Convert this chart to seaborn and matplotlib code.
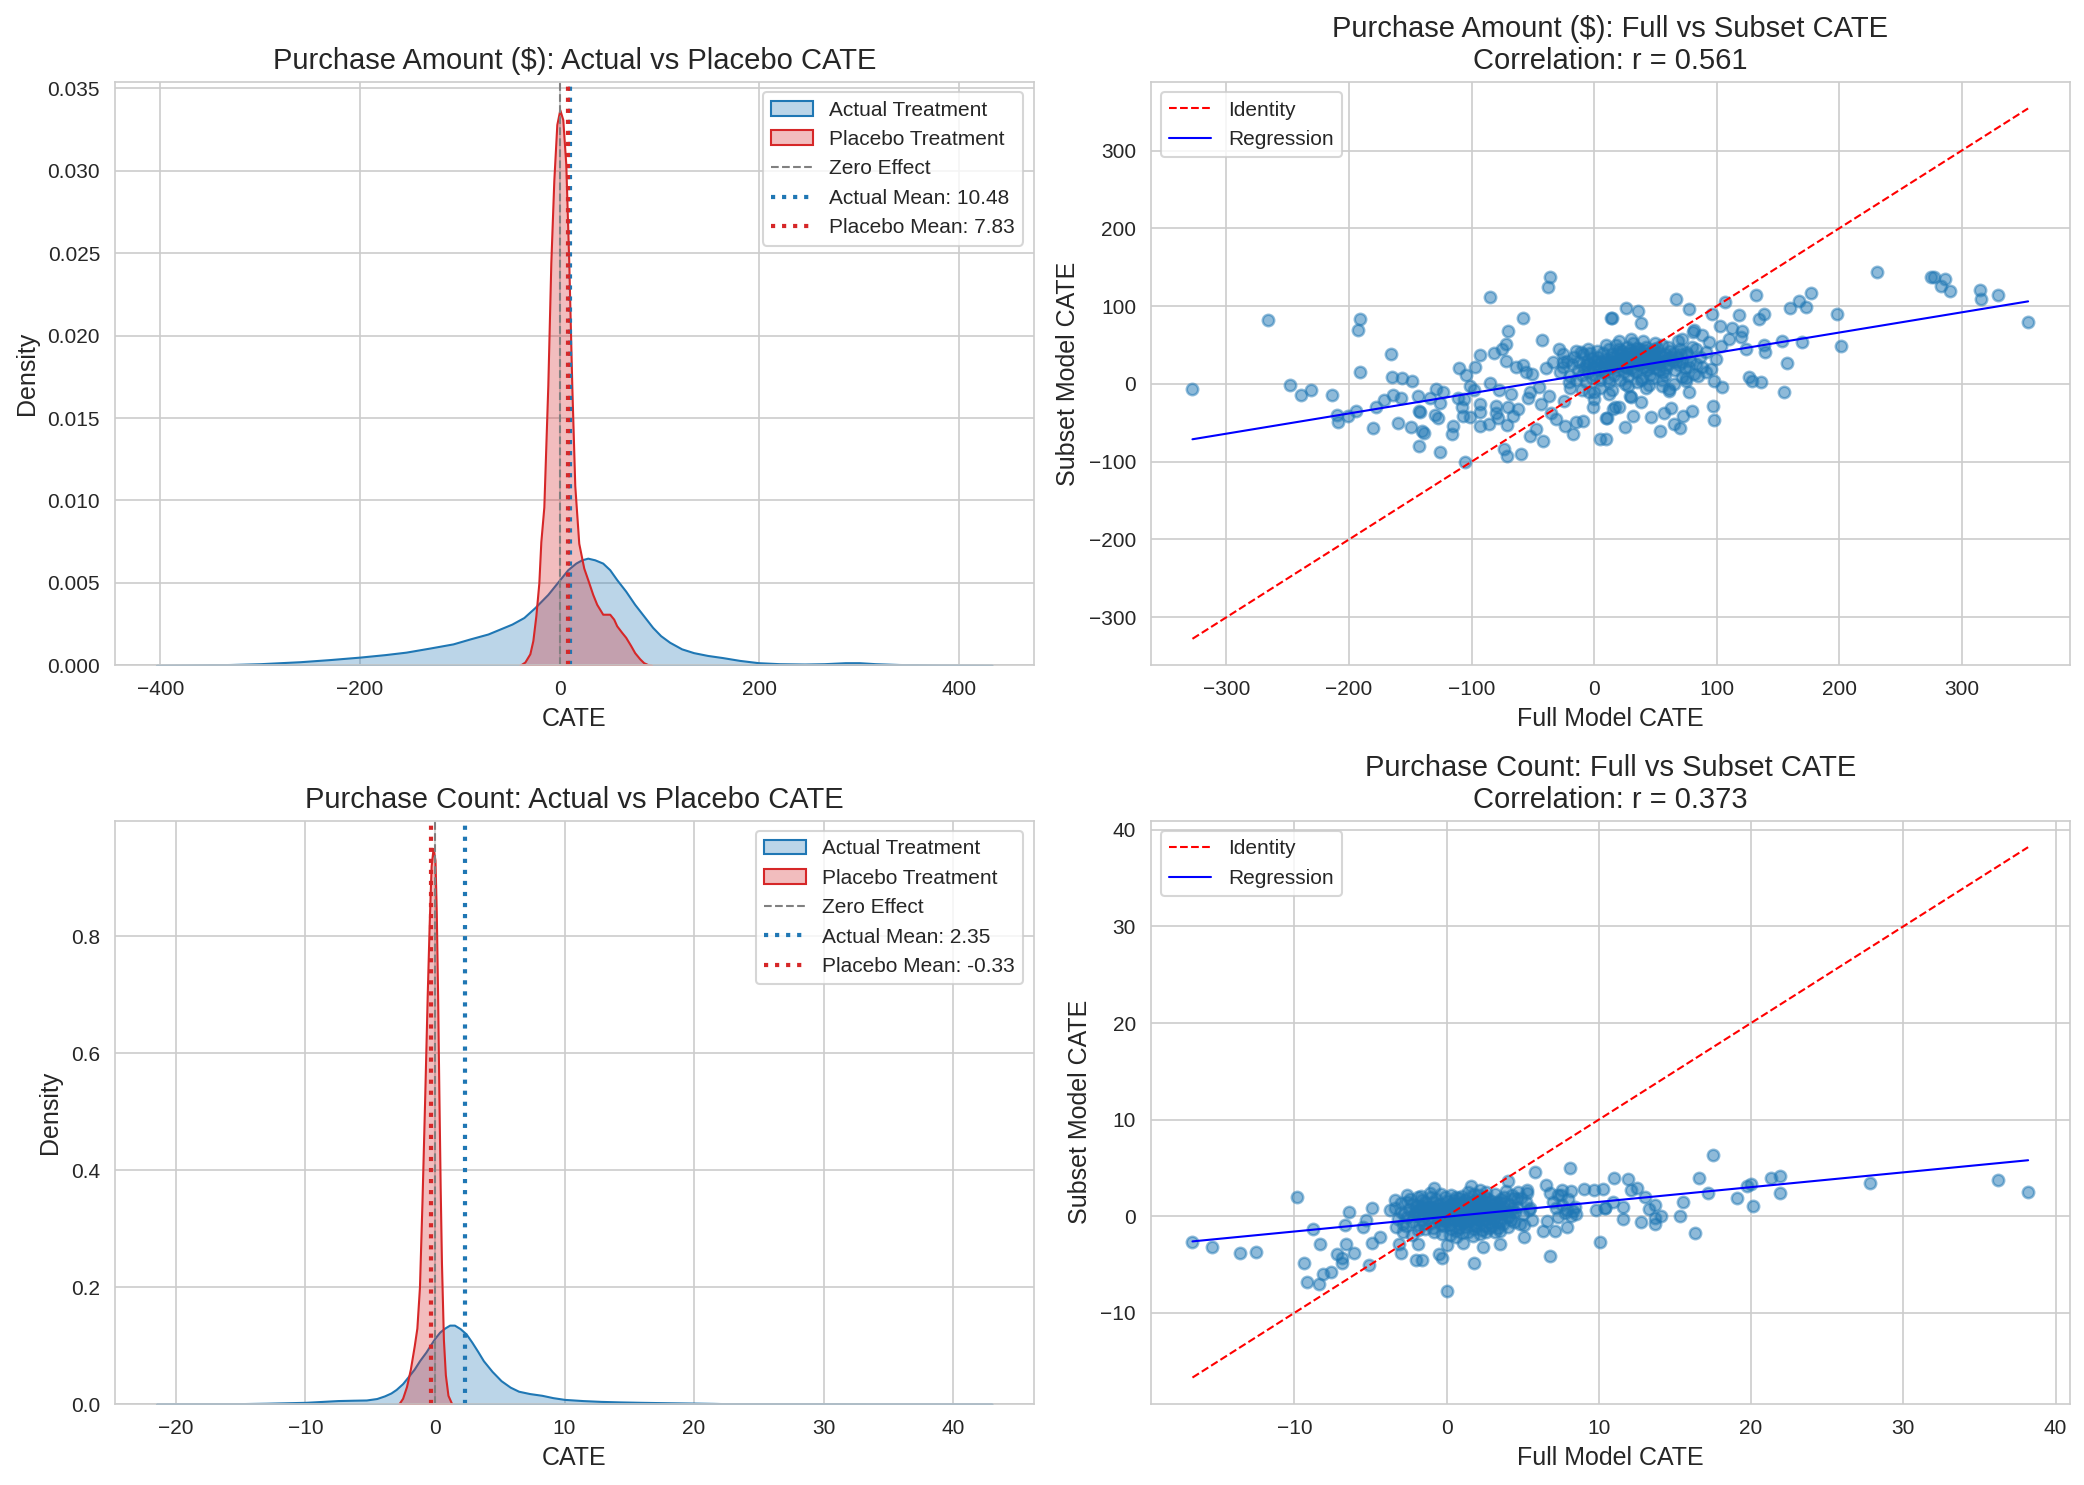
import numpy as np
import matplotlib
matplotlib.use("Agg")
import matplotlib.pyplot as plt
import seaborn as sns
from matplotlib.colors import to_rgba

sns.set_style("whitegrid")
plt.rcParams['font.family'] = ['Liberation Sans', 'DejaVu Sans']

BLUE = '#1f77b4'
RED = '#d62728'

# ---------------- Purchase Amount: density curves ----------------
amt_actual_x = [-404, -370, -330, -300, -260, -230, -200, -175, -154, -130, -107, -90, -72, -60,
                -48, -36, -25, -12, 0, 8, 16, 22, 28, 35, 43, 50, 57, 66, 75, 84, 93, 101, 110,
                122, 134, 148, 163, 180, 199, 220, 245, 265, 286, 300, 316, 340, 374, 400, 433]
amt_actual_d = [0, 0.00002, 0.00005, 0.0001, 0.00022, 0.00035, 0.0005, 0.00065, 0.0008, 0.00105,
                0.0013, 0.0016, 0.0019, 0.0022, 0.0025, 0.0029, 0.0035, 0.0043, 0.0052, 0.0058,
                0.0062, 0.0064, 0.0065, 0.0064, 0.0062, 0.0058, 0.0052, 0.0045, 0.0037, 0.003,
                0.0023, 0.0018, 0.0014, 0.001, 0.00077, 0.0006, 0.00047, 0.0003, 0.00016, 0.0001,
                0.00008, 0.0001, 0.00016, 0.00016, 0.0001, 0.00005, 0.00002, 0.00001, 0]
amt_placebo_x = [-40, -35, -30, -27, -24, -21, -19, -16, -12, -9, -6, -3, 0, 3, 6, 9, 12, 15, 19,
                 24, 28, 33, 37, 43, 47, 50, 54, 57, 62, 66, 71, 75, 80, 84, 88, 92]
amt_placebo_d = [0, 0.0002, 0.0007, 0.0015, 0.003, 0.005, 0.0075, 0.0096, 0.017, 0.0244, 0.0294,
                 0.0328, 0.0337, 0.0331, 0.0304, 0.0244, 0.017, 0.0109, 0.0074, 0.0059, 0.0052,
                 0.0043, 0.0037, 0.0031, 0.0031, 0.0031, 0.0028, 0.0024, 0.002, 0.0017, 0.0012,
                 0.00077, 0.0004, 0.00016, 0.00005, 0]
amt_actual_mean = 10.48
amt_placebo_mean = 7.83

# ---------------- Purchase Count: density curves ----------------
cnt_actual_x = [-21.5, -18, -15.6, -13, -10, -8.5, -7.5, -6.3, -5.3, -4.5, -3.9, -3.4, -3.0, -2.5,
                -2.1, -1.6, -1.2, -0.7, -0.3, 0.0, 0.36, 0.75, 1.13, 1.5, 1.94, 2.4, 2.84, 3.3,
                3.74, 4.4, 5.1, 5.8, 6.45, 7.3, 8.25, 9.1, 10, 11.4, 12.8, 14.3, 15.9, 18, 20,
                21.5, 22.7, 25, 27.2, 32, 38, 43]
cnt_actual_d = [0, 0.0003, 0.0006, 0.0015, 0.003, 0.0048, 0.006, 0.0066, 0.007, 0.0095, 0.014,
                0.019, 0.025, 0.035, 0.046, 0.06, 0.074, 0.089, 0.103, 0.113, 0.123, 0.13, 0.135,
                0.135, 0.129, 0.12, 0.106, 0.09, 0.074, 0.056, 0.04, 0.029, 0.022, 0.018, 0.015,
                0.011, 0.008, 0.006, 0.0046, 0.0037, 0.003, 0.0023, 0.0017, 0.0012, 0.0006,
                0.0003, 0.0002, 0.0001, 0.00003, 0]
cnt_placebo_x = [-2.8, -2.5, -2.2, -1.9, -1.6, -1.4, -1.2, -1.0, -0.8, -0.6, -0.45, -0.3, -0.15,
                 0.0, 0.1, 0.2, 0.3, 0.4, 0.5, 0.65, 0.8, 1.0, 1.3]
cnt_placebo_d = [0, 0.01, 0.03, 0.06, 0.1, 0.13, 0.2, 0.35, 0.52, 0.7, 0.82, 0.92, 0.95, 0.93,
                 0.84, 0.7, 0.53, 0.37, 0.24, 0.11, 0.05, 0.015, 0]
cnt_actual_mean = 2.35
cnt_placebo_mean = -0.33

# ---------------- Purchase Amount: full vs subset CATE points ----------------
amt_pts_left = [
    (-327.7, -6.5), (-266.3, 81.7), (-248.4, -1.3), (-238.9, -13.8), (-230.7, -7.7), (-213.6, -13.8),
    (-210, -40), (-209.2, -48.6), (-200.8, -40.9), (-194.6, -35.3), (-191, 83), (-192.4, 68.8),
    (-190.8, 15), (-180.7, -56.8), (-177.7, -30.1), (-171.7, -20.2), (-166, 37.8), (-164.7, 8.6),
    (-164.1, -13.8), (-157.1, 7.3), (-157.9, -18.1), (-159.8, -50.8), (-148.4, 3.4), (-149.2, -55.9),
    (-143.5, -15.9), (-143, -34.8), (-141.8, -36.6), (-143.2, -80.4), (-140.2, -61.1), (-139.1, -63.7),
    (-128.8, -6.5), (-126.1, -24.5), (-127.4, -43.9), (-129.9, -40), (-126.1, -87.3), (-123.4, -9.9),
    (-133.7, -18.1), (-115.5, -53.8), (-116.3, -64.9), (-110.3, 19.8), (-104.9, 12), (-105.7, -101),
    (-101.6, -2.2), (-98.1, -7.7), (-107.6, -29.2), (-106.5, -19.4), (-111.1, -18.1), (-107.1, -40.9),
    (-101.6, -43), (-97.5, 21.5), (-93.5, 37.4), (-92.9, -25.8), (-92.7, -35.7), (-93.5, -53.8),
    (-85.9, -52), (-84.8, 111.8), (-84.8, 0.9), (-81.3, 39.6), (-80.4, -28), (-79.9, -37.4),
    (-78.5, -44.3), (-77.2, -7.3), (-75, 45.2), (-71.7, 50.8), (-70.4, 67.5), (-71.7, 29.2),
    (-70.4, -29.7), (-71.2, -52.9), (-73.9, -83.9), (-70.9, -93.3), (-67.7, -12.9), (-66.3, -40.9),
    (-63.6, 21.5), (-62.2, -32.3), (-59.5, -90.3), (-58.2, 85.2), (-58.2, 23.7), (-55.4, 15),
    (-54.1, -18.1), (-52.7, -66.7), (-52.2, -10.8), (-50.5, 12.9), (-47.3, -58.1), (-44.6, -4.3),
    (-42.4, 55.9), (-41.8, -73.1), (-43.2, -25.8), (-39.1, 20.2), (-37.8, 123.9), (-35.9, 137.6),
    (-36.4, -15.1), (-35, -37.8), (-33.7, 28), (-31, -45.2), (-28.3, 45.2), (-25.5, 28),
    (-24.2, -21.5), (-23.4, -53.8), (-20.1, 2.2), (-17.4, -64.5), (-14.7, -49.5), (-10.6, 40.9),
    (-9.2, -47.3), (-6.5, 23.7), (-3.8, -10.8), (-1.1, -30.1), (0.3, -19.4), (4.9, -71),
    (9.8, -44.3), (13.9, 85.2), (15.2, -32.3),
]
amt_pts_right = [
    (26.4, 97.6), (35.9, 93.3), (14.4, 84.7), (38, 78.7), (66.6, 109.7), (77.4, 95.9), (95.9, 90.3),
    (106.8, 105.4), (102.4, 74.4), (81.5, 68.8), (112.8, 71.8), (120.4, 68), (119.6, 60.2),
    (110.1, 57.2), (103.3, 48.2), (118.2, 89), (131.8, 114), (138.6, 90.3), (134.5, 83),
    (123.6, 44.3), (138.6, 50.3), (139.4, 40.9), (153.5, 54.6), (157.1, 26.7), (159.5, 97.6),
    (167.1, 106.7), (172.6, 98.9), (176.6, 117), (169.3, 53.8), (154.9, -9.9), (126.4, 8.6),
    (128.5, 4.3), (135.9, 3), (198.4, 89.5), (201.1, 48.2), (231, 144.1), (274.5, 137.6),
    (277.2, 137.6), (283.4, 125.6), (286.7, 134.2), (290.2, 119.6), (315.2, 121.3), (316, 108.8),
    (329.3, 114), (354.1, 79.6), (97.8, 3.4), (97, -28), (97.8, -46), (104.6, -4.3), (79.6, -34.4),
    (77.4, -9.9), (72.6, -40.9), (69.8, -57.2), (65.2, -51.6), (62.5, -31.4), (57.1, -37.4),
    (53.8, -60.2), (46.7, -43), (31.8, -40.9), (25.3, -55.9), (38, -22.8), (29.9, -17.2),
    (20.4, -30.1), (17.1, -30.1), (10.3, -44.3), (9.5, -71), (61.1, -6.5), (77.4, 21.5), (91, 15),
    (95.1, 19.4), (99.2, 32.3), (93.8, 53.8), (88.3, 62.4), (80.7, 66.7), (71.5, 57.2), (68.8, 54.6),
    (74.7, 40.9), (82.9, 45.2), (91, 40.9), (72, 8.6), (81.5, 12.9), (74.7, 4.3), (55.2, -2.2),
    (61.1, -8.6), (42.1, -5.6), (29.1, -15.1), (12.2, -12.9),
]
amt_pts_core = [
    (-28, 15), (-25, 22), (-22, 30), (-20, 10), (-18, 25), (-16, 35), (-15, 5), (-13, 18), (-12, 28),
    (-10, 12), (-9, 38), (-8, 20), (-7, 2), (-6, 30), (-5, 15), (-4, 25), (-3, 40), (-2, 8), (-1, 20),
    (0, 30), (1, 12), (2, 25), (3, 35), (4, 18), (5, 5), (6, 28), (7, 40), (8, 15), (9, 22), (10, 32),
    (11, 8), (12, 45), (13, 20), (14, 28), (15, 38), (16, 12), (17, 25), (18, 50), (19, 18), (20, 33),
    (21, 5), (22, 27), (23, 42), (24, 15), (25, 35), (26, 22), (27, 48), (28, 10), (29, 30), (30, 40),
    (31, 20), (32, 52), (33, 28), (34, 15), (35, 38), (36, 25), (37, 45), (38, 32), (39, 8), (40, 22),
    (41, 35), (42, 48), (43, 18), (44, 28), (45, 40), (46, 12), (47, 32), (48, 25), (49, 45), (50, 20),
    (52, 35), (54, 28), (55, 50), (56, 15), (58, 38), (60, 25), (62, 42), (64, 30), (66, 18), (68, 35),
    (70, 45), (72, 28), (74, 20), (76, 38), (78, 30), (80, 48), (83, 25), (86, 35), (88, 22),
    (-20, -5), (-10, -8), (5, -5), (15, -8), (25, 0), (35, 2), (45, -2), (55, 5), (65, 0), (75, 8),
    (85, 10), (-5, 45), (10, 50), (20, 55), (30, 58), (40, 55), (50, 52), (60, 48), (-15, 42),
    (0, -10), (-25, 38), (12, 2), (28, -3), (38, 5), (48, 8), (58, 12),
    (6, 20), (9, 30), (14, 35), (18, 22), (22, 38), (24, 30), (27, 20), (30, 28), (33, 42), (36, 33),
    (39, 40), (42, 30), (44, 22), (47, 42), (50, 30), (53, 40), (57, 30), (59, 20), (63, 35), (67, 28),
    (20, 45), (26, 40), (31, 34), (35, 46), (40, 28), (44, 36), (48, 35), (52, 25), (16, 30), (11, 25),
    (19, 40), (23, 24), (27, 33), (29, 44), (32, 18), (34, 36), (37, 26), (41, 44), (43, 38), (46, 27),
    (49, 37), (51, 46), (53, 18), (56, 34), (61, 32), (65, 40), (69, 24), (71, 38), (-2, 33), (2, 42),
]
amt_slope, amt_intercept = 0.26, 14.0
amt_r = 0.561

# ---------------- Purchase Count: full vs subset CATE points ----------------
cnt_pts_outer = [
    (-16.7, -2.7), (-15.4, -3.2), (-13.6, -3.8), (-12.5, -3.7), (-9.8, 2.0), (-8.8, -1.3),
    (-8.3, -2.9), (-9.4, -4.8), (-9.2, -6.8), (-8.4, -7.0), (-8.1, -6.0), (-7.6, -5.8), (-7.2, -3.9),
    (-6.9, -4.3), (-6.9, -4.8), (-6.6, -2.9), (-6.1, -3.8), (-6.7, -0.9), (-6.4, 0.4), (-5.5, -1.1),
    (-5.3, -0.4), (-4.9, 0.8), (-4.9, -2.8), (-4.4, -2.1), (-5.1, -5.1), (-3.7, 0.6), (-3.4, 1.7),
    (-3.1, -2.9), (-3.0, -3.8), (-3.3, -1.1), (-2.9, -0.8), (-2.6, 1.5), (-2.0, -4.5), (-1.6, -4.5),
    (-1.9, -2.9), (-1.9, 2.0), (-0.8, 2.9), (-0.5, -3.9), (-0.3, -4.3), (0.0, -3.0), (0.04, -7.7),
    (1.1, -2.8), (1.8, -4.8), (2.4, -3.2), (3.5, -2.9), (1.6, 3.1), (4.0, 3.6), (5.8, 4.6),
    (6.5, 3.2), (8.1, 5.0), (6.8, -4.1), (5.1, -2.2), (6.3, -1.5), (7.1, -1.5), (7.9, -1.1),
    (10.1, -2.7), (5.3, 2.4), (7.3, 2.2), (7.6, 2.7), (9.0, 2.8), (9.7, 2.7), (10.3, 2.8), (9.8, 0.6),
    (10.4, 0.8), (7.9, 0.6), (8.3, 0.5), (7.3, -0.1), (6.6, -0.5), (5.5, 0.8), (4.6, 1.8), (5.1, -0.9),
    (3.5, -1.5),
    (11.0, 4.0), (11.9, 3.9), (12.1, 2.7), (12.5, 2.9), (13.0, 2.0), (10.9, 1.5), (10.4, 0.8),
    (11.6, 1.0), (11.6, -0.3), (12.8, -0.6), (13.3, 0.7), (13.7, 1.2), (13.7, -0.2), (13.7, -0.8),
    (14.1, 0.0), (15.3, 0.0), (15.5, 1.5), (16.3, -1.7), (16.6, 4.0), (17.2, 2.4), (17.5, 6.3),
    (19.1, 1.9), (19.7, 3.1), (20.0, 3.3), (20.1, 1.1), (21.3, 4.0), (21.9, 4.2), (21.9, 2.4),
    (27.8, 3.4), (36.2, 3.7), (38.2, 2.5),
    (6.8, 2.4), (7.0, 1.5), (7.2, 0.8), (7.5, 2.2), (7.6, 1.2), (7.8, 0.3), (8.0, 1.8), (8.2, 2.6),
    (8.4, 1.0), (8.5, 0.2), (8.2, 0.0),
]
cnt_pts_core = [
    (-3.4, 0.9), (-3.2, -0.3), (-3.0, 1.4), (-2.8, 0.2), (-2.7, -1.0), (-2.5, 0.7), (-2.4, 1.8),
    (-2.3, -0.6), (-2.1, 0.3), (-2.0, 1.1), (-1.9, -1.4), (-1.8, 0.0), (-1.7, 2.1), (-1.6, 0.8),
    (-1.5, -0.8), (-1.4, 1.5), (-1.3, 0.4), (-1.2, -0.2), (-1.1, 2.4), (-1.0, 1.0), (-0.9, -1.2),
    (-0.8, 0.6), (-0.7, 1.8), (-0.6, -0.5), (-0.5, 0.2), (-0.4, 1.3), (-0.3, -1.8), (-0.2, 0.9),
    (-0.1, -0.1), (0.0, 1.6), (0.1, 0.4), (0.2, -0.9), (0.3, 2.2), (0.4, 0.0), (0.5, 1.1),
    (0.6, -1.5), (0.7, 0.6), (0.8, 1.9), (0.9, -0.4), (1.0, 0.3), (1.1, 1.4), (1.2, -1.1), (1.3, 0.8),
    (1.4, 2.5), (1.5, -0.2), (1.6, 1.0), (1.7, -2.0), (1.8, 0.5), (1.9, 1.7), (2.0, -0.7), (2.1, 0.2),
    (2.2, 1.2), (2.3, -1.4), (2.4, 0.7), (2.5, 2.0), (2.6, -0.3), (2.7, 1.0), (2.8, 0.1), (2.9, 1.6),
    (3.0, -1.0), (3.1, 0.5), (3.2, 2.3), (3.3, -0.5), (3.4, 1.1), (3.5, 0.3), (3.6, 1.8), (3.7, -0.8),
    (3.8, 0.8), (3.9, 2.6), (4.0, 0.0), (4.1, 1.3), (4.2, -0.4), (4.3, 0.9), (4.4, 1.9), (4.5, 0.4),
    (-2.6, -0.1), (-2.2, 1.3), (-1.9, 0.5), (-1.6, -0.4), (-1.3, 1.0), (-1.0, -0.7), (-0.8, 0.3),
    (-0.6, 1.2), (-0.4, -0.3), (-0.3, 0.6), (-0.1, 2.0), (0.0, -0.6), (0.1, 0.9), (0.2, 0.2),
    (0.3, -0.2), (0.4, 1.4), (0.5, -0.4), (0.6, 0.4), (0.7, 1.2), (0.8, -0.8), (0.9, 0.9),
    (1.0, -0.3), (1.1, 0.1), (1.2, 1.7), (1.3, -0.5), (1.4, 0.5), (1.5, 1.3), (1.6, -0.9), (1.7, 0.7),
    (1.8, 1.5), (1.9, -0.2), (2.0, 0.9), (2.1, 2.2), (2.2, -0.4), (2.3, 0.4), (2.4, 1.4), (2.5, -1.0),
    (2.6, 0.6), (2.7, 1.8), (2.8, -0.6), (2.9, 0.3), (3.0, 1.2), (3.1, -0.2), (3.2, 0.9), (3.3, 1.5),
    (3.5, -0.6), (3.6, 0.6), (3.8, 1.4), (4.1, -0.1), (4.3, 2.2),
    (0.2, 0.6), (0.5, 0.1), (0.7, -0.1), (0.9, 1.3), (1.1, -0.6), (1.3, 0.3), (1.5, 0.8), (1.7, 0.0),
    (1.9, 0.6), (2.1, -0.1), (2.3, 1.0), (2.5, 0.3), (0.0, 0.3), (-0.2, -0.5), (-0.5, 0.8),
    (1.0, 2.1), (1.4, -1.6), (2.0, 1.6), (2.6, -1.6), (3.0, 0.7), (-1.2, 0.9), (-0.9, -0.1),
    (0.6, -2.1), (1.8, -1.3), (3.4, -1.2), (2.2, 2.7), (-1.5, 0.2), (0.3, -1.3), (4.6, 1.0),
    (5.0, 0.2), (4.8, -0.8), (5.2, 1.5), (4.7, 2.5),
    (-2.9, -1.6), (-2.6, 2.2), (-2.3, -1.9), (-2.0, 0.6), (-1.8, -0.9), (-1.6, 1.7), (-1.4, -1.3),
    (-1.2, 0.3), (-1.0, 2.0), (-0.8, -1.6), (-0.6, 0.0), (-0.4, 2.3), (-0.2, -1.0), (0.0, 1.1),
    (0.2, -1.9), (0.4, 0.7), (0.6, 2.0), (0.8, 0.0), (1.0, -1.7), (1.2, 0.6), (1.4, 1.9),
    (1.6, -0.4), (1.8, 2.3), (2.0, 0.1), (2.2, -1.8), (2.4, 1.1), (2.6, 2.5), (2.8, -1.2),
    (3.0, 0.2), (3.2, -1.6), (3.4, 0.6), (3.6, -0.2), (3.8, 2.0), (4.0, -1.1), (4.2, 0.5),
    (4.4, -0.6), (-0.9, 1.5), (0.5, 1.7), (1.5, 0.3), (2.5, 1.6), (3.5, 1.5), (0.8, -1.2),
    (1.9, -1.0), (-1.7, 1.1), (-0.4, -0.9), (0.3, 1.2), (1.1, 0.8), (2.1, 1.3), (2.9, -0.3),
    (3.9, 0.4), (-3.0, 0.4), (-2.2, 0.0), (5.4, 0.6), (5.6, -0.4), (4.9, 1.9), (5.3, 2.7),
]
cnt_slope, cnt_intercept = 0.153, -0.05
cnt_r = 0.373


def kde_panel(ax, xa, da, xp, dp, mean_a, mean_p, title):
    for xs, ds, c, lab in [(xa, da, BLUE, 'Actual Treatment'),
                           (xp, dp, RED, 'Placebo Treatment')]:
        coll = ax.fill_between(xs, 0, ds, facecolor=to_rgba(c, 0.3),
                               edgecolor=c, linewidth=1.0, label=lab)
        coll.sticky_edges.y[:] = [0]
    ax.axvline(0, color='gray', linestyle='--', linewidth=1, label='Zero Effect')
    ax.axvline(mean_a, color=BLUE, linestyle=':', linewidth=2,
               label=f'Actual Mean: {mean_a:.2f}')
    ax.axvline(mean_p, color=RED, linestyle=':', linewidth=2,
               label=f'Placebo Mean: {mean_p:.2f}')
    ax.set_title(title, fontsize=14)
    ax.set_xlabel('CATE', fontsize=12)
    ax.set_ylabel('Density', fontsize=12)
    ax.legend(loc='upper right', fontsize=10)


def scatter_panel(ax, groups, slope, intercept, r, title):
    pts = np.array([p for g in groups for p in g])
    full, subset = pts[:, 0], pts[:, 1]
    sns.scatterplot(x=full, y=subset, ax=ax, color=BLUE, alpha=0.5, s=30,
                    edgecolor=BLUE, linewidth=1.2)
    lo, hi = full.min(), full.max()
    ax.plot([lo, hi], [lo, hi], 'r--', linewidth=1, label='Identity')
    xl = np.array([lo, hi])
    ax.plot(xl, slope * xl + intercept, 'b-', linewidth=1, label='Regression')
    ax.set_title(f'{title}\nCorrelation: r = {r:.3f}', fontsize=14)
    ax.set_xlabel('Full Model CATE', fontsize=12)
    ax.set_ylabel('Subset Model CATE', fontsize=12)
    ax.legend(loc='upper left', fontsize=10)


fig, axes = plt.subplots(2, 2, figsize=(14, 10), dpi=150)

kde_panel(axes[0, 0], amt_actual_x, amt_actual_d, amt_placebo_x, amt_placebo_d,
          amt_actual_mean, amt_placebo_mean, 'Purchase Amount ($): Actual vs Placebo CATE')
scatter_panel(axes[0, 1], [amt_pts_left, amt_pts_right, amt_pts_core],
              amt_slope, amt_intercept, amt_r, 'Purchase Amount ($): Full vs Subset CATE')
kde_panel(axes[1, 0], cnt_actual_x, cnt_actual_d, cnt_placebo_x, cnt_placebo_d,
          cnt_actual_mean, cnt_placebo_mean, 'Purchase Count: Actual vs Placebo CATE')
scatter_panel(axes[1, 1], [cnt_pts_outer, cnt_pts_core],
              cnt_slope, cnt_intercept, cnt_r, 'Purchase Count: Full vs Subset CATE')

fig.tight_layout()
fig.savefig('out.png', dpi=150, bbox_inches='tight')
